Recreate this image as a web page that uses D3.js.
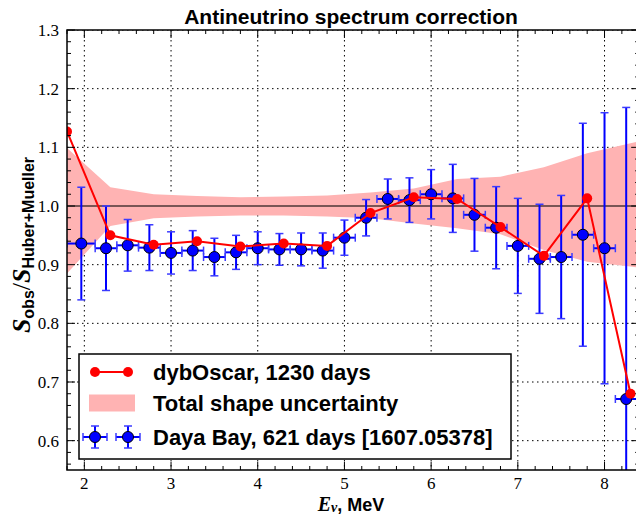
<!DOCTYPE html>
<html>
<head>
<meta charset="utf-8">
<script src="https://cdn.jsdelivr.net/npm/d3@7"></script>
<style>
  html, body { margin: 0; padding: 0; background: #fff; }
  svg { display: block; }
</style>
</head>
<body>
<svg id="chart" width="636" height="515"></svg>
<script>
// ---- data ----
// dybOscar ratio, evaluated on a 0.5 MeV grid
const oscarE = [1.8, 2.3, 2.8, 3.3, 3.8, 4.3, 4.8, 5.3, 5.8, 6.3, 6.8, 7.3, 7.8, 8.3];
const oscarRatio = [1.127, 0.950, 0.934, 0.940, 0.931, 0.936, 0.932, 0.988, 1.015, 1.012, 0.964, 0.915, 1.013, 0.680];

// total shape uncertainty band (upper / lower edge)
const bandE = [1.8, 2.3, 2.8, 3.3, 3.8, 4.3, 4.8, 5.3, 5.8, 6.3, 6.8, 7.3, 7.8, 8.3, 8.4];
const bandHigh = [1.099, 1.032, 1.020, 1.017, 1.015, 1.016, 1.018, 1.023, 1.030, 1.046, 1.050, 1.066, 1.090, 1.107, 1.110];
const bandLow = [0.885, 0.966, 0.979, 0.982, 0.984, 0.984, 0.982, 0.979, 0.970, 0.962, 0.952, 0.925, 0.905, 0.897, 0.895];

// Daya Bay, 621 days: bin edges, ratio, uncertainty
const dybLo = [1.8, 2.125, 2.375, 2.625, 2.875, 3.125, 3.375, 3.625, 3.875, 4.125, 4.375, 4.625, 4.875, 5.125, 5.375, 5.625, 5.875, 6.125, 6.375, 6.625, 6.875, 7.125, 7.375, 7.625, 7.875, 8.125];
const dybHi = [2.125, 2.375, 2.625, 2.875, 3.125, 3.375, 3.625, 3.875, 4.125, 4.375, 4.625, 4.875, 5.125, 5.375, 5.625, 5.875, 6.125, 6.375, 6.625, 6.875, 7.125, 7.375, 7.625, 7.875, 8.125, 8.375];
const dybE = [1.965, 2.25, 2.5, 2.75, 3.0, 3.25, 3.5, 3.75, 4.0, 4.25, 4.5, 4.75, 5.0, 5.25, 5.5, 5.75, 6.0, 6.25, 6.5, 6.75, 7.0, 7.25, 7.5, 7.75, 8.0, 8.25];
const dybRatio = [0.936, 0.928, 0.933, 0.929, 0.920, 0.924, 0.913, 0.921, 0.928, 0.926, 0.926, 0.924, 0.946, 0.980, 1.012, 1.010, 1.020, 1.013, 0.985, 0.963, 0.932, 0.910, 0.913, 0.951, 0.928, 0.671];
const dybErr = [0.096, 0.072, 0.044, 0.039, 0.036, 0.034, 0.032, 0.029, 0.028, 0.027, 0.028, 0.030, 0.030, 0.031, 0.034, 0.038, 0.042, 0.058, 0.062, 0.070, 0.081, 0.093, 0.105, 0.190, 0.231, 0.497];

const xMajor = [2, 3, 4, 5, 6, 7, 8];
const yMajor = [0.6, 0.7, 0.8, 0.9, 1.0, 1.1, 1.2, 1.3];
const yTickText = ["0.6", "0.7", "0.8", "0.9", "1.0", "1.1", "1.2", "1.3"];

const titleText = "Antineutrino spectrum correction";
const legendText = ["dybOscar, 1230 days", "Total shape uncertainty", "Daya Bay, 621 days [1607.05378]"];

// ---- layout ----
const pL = 67, pR = 639.2, pT = 30, pB = 470;
const svg = d3.select("#chart");
const x = d3.scaleLinear().domain([1.8, 8.4]).range([pL, pR]);
const y = d3.scaleLinear().domain([0.55, 1.3]).range([pB, pT]);

const RED = "#ff0000", BLUE = "#0000ff", PINK = "#ffb3b3", CAPBLUE = "#3b3bff";
const SANS = "'Liberation Sans', Arial, sans-serif";
const SERIF = "'Liberation Serif', 'Times New Roman', serif";

svg.append("defs").append("clipPath").attr("id", "plotclip")
  .append("rect").attr("x", pL).attr("y", pT).attr("width", pR - pL).attr("height", pB - pT);

const plot = svg.append("g").attr("clip-path", "url(#plotclip)");

// grid
plot.append("g").selectAll("line").data(xMajor).join("line")
  .attr("x1", d => x(d)).attr("x2", d => x(d)).attr("y1", pT).attr("y2", pB)
  .attr("stroke", "#000").attr("stroke-width", 1).attr("stroke-dasharray", "1.5,3.5");
plot.append("g").selectAll("line").data(yMajor).join("line")
  .attr("y1", d => y(d)).attr("y2", d => y(d)).attr("x1", pL).attr("x2", pR)
  .attr("stroke", "#000").attr("stroke-width", 1).attr("stroke-dasharray", "1.5,3.5");

// uncertainty band
const bandData = bandE.map((e, i) => ({ e, hi: bandHigh[i], lo: bandLow[i] }));
plot.append("path").datum(bandData)
  .attr("d", d3.area().x(d => x(d.e)).y0(d => y(d.lo)).y1(d => y(d.hi)))
  .attr("fill", PINK);

// reference line at unity
plot.append("line").attr("x1", pL).attr("x2", pR).attr("y1", y(1)).attr("y2", y(1))
  .attr("stroke", "#000").attr("stroke-opacity", 0.7).attr("stroke-width", 1.5);

// Daya Bay points with error bars
const dyb = dybE.map((e, i) => ({ e, lo: dybLo[i], hi: dybHi[i], v: dybRatio[i], err: dybErr[i] }));
const gd = plot.append("g");
const cap = 4;
gd.selectAll("line.h").data(dyb).join("line").attr("class", "h")
  .attr("x1", d => x(d.lo)).attr("x2", d => x(d.hi)).attr("y1", d => y(d.v)).attr("y2", d => y(d.v))
  .attr("stroke", BLUE).attr("stroke-width", 2);
gd.selectAll("line.v").data(dyb).join("line").attr("class", "v")
  .attr("x1", d => x(d.e)).attr("x2", d => x(d.e)).attr("y1", d => y(d.v - d.err)).attr("y2", d => y(d.v + d.err))
  .attr("stroke", BLUE).attr("stroke-width", 2);
const capsV = [];
dyb.forEach(d => { capsV.push({ e: d.e, v: d.v - d.err }); capsV.push({ e: d.e, v: d.v + d.err }); });
gd.selectAll("line.cv").data(capsV).join("line").attr("class", "cv")
  .attr("x1", d => x(d.e) - cap).attr("x2", d => x(d.e) + cap).attr("y1", d => y(d.v)).attr("y2", d => y(d.v))
  .attr("stroke", CAPBLUE).attr("stroke-width", 1.5);
const capsH = [];
dyb.forEach(d => { capsH.push({ e: d.lo, v: d.v }); capsH.push({ e: d.hi, v: d.v }); });
gd.selectAll("line.ch").data(capsH).join("line").attr("class", "ch")
  .attr("x1", d => x(d.e)).attr("x2", d => x(d.e)).attr("y1", d => y(d.v) - cap).attr("y2", d => y(d.v) + cap)
  .attr("stroke", CAPBLUE).attr("stroke-width", 1.5);
gd.selectAll("circle").data(dyb).join("circle")
  .attr("cx", d => x(d.e)).attr("cy", d => y(d.v)).attr("r", 5.5)
  .attr("fill", BLUE).attr("stroke", "#000").attr("stroke-width", 1);

// dybOscar curve
const osc = oscarE.map((e, i) => ({ e, v: oscarRatio[i] }));
plot.append("path").datum(osc)
  .attr("d", d3.line().x(d => x(d.e)).y(d => y(d.v)))
  .attr("fill", "none").attr("stroke", RED).attr("stroke-width", 2);
plot.append("g").selectAll("circle").data(osc).join("circle")
  .attr("cx", d => x(d.e)).attr("cy", d => y(d.v)).attr("r", 5).attr("fill", RED);

// ---- frame and ticks (inward, all four sides) ----
const axes = svg.append("g");
const xMinor = d3.range(1.8, 8.41, 0.2).map(v => +v.toFixed(2)).filter(v => !xMajor.some(m => Math.abs(m - v) < 1e-6));
const yMinor = d3.range(0.56, 1.301, 0.02).map(v => +v.toFixed(2)).filter(v => !yMajor.some(m => Math.abs(m - v) < 1e-6));

[{ vals: xMajor, len: 8 }, { vals: xMinor, len: 4 }].forEach(t => {
  axes.append("g").selectAll("line").data(t.vals).join("line")
    .attr("x1", d => x(d)).attr("x2", d => x(d)).attr("y1", pB).attr("y2", pB - t.len)
    .attr("stroke", "#000").attr("stroke-width", 1);
  axes.append("g").selectAll("line").data(t.vals).join("line")
    .attr("x1", d => x(d)).attr("x2", d => x(d)).attr("y1", pT).attr("y2", pT + t.len)
    .attr("stroke", "#000").attr("stroke-width", 1);
});
[{ vals: yMajor, len: 8 }, { vals: yMinor, len: 4 }].forEach(t => {
  axes.append("g").selectAll("line").data(t.vals).join("line")
    .attr("y1", d => y(d)).attr("y2", d => y(d)).attr("x1", pL).attr("x2", pL + t.len)
    .attr("stroke", "#000").attr("stroke-width", 1);
  axes.append("g").selectAll("line").data(t.vals).join("line")
    .attr("y1", d => y(d)).attr("y2", d => y(d)).attr("x1", pR).attr("x2", pR - t.len)
    .attr("stroke", "#000").attr("stroke-width", 1);
});
axes.append("rect").attr("x", pL).attr("y", pT).attr("width", pR - pL).attr("height", pB - pT)
  .attr("fill", "none").attr("stroke", "#000").attr("stroke-width", 1.5);

// tick labels
axes.append("g").selectAll("text").data(xMajor).join("text")
  .attr("x", d => x(d)).attr("y", pB + 19)
  .attr("text-anchor", "middle").attr("font-family", SERIF).attr("font-size", 17)
  .text(d => d);
axes.append("g").selectAll("text").data(yMajor).join("text")
  .attr("x", pL - 8).attr("y", d => y(d) + 6)
  .attr("text-anchor", "end").attr("font-family", SERIF).attr("font-size", 17)
  .text((d, i) => yTickText[i]);

// title
svg.append("text").attr("x", 351).attr("y", 24).attr("text-anchor", "middle")
  .attr("font-family", SANS).attr("font-weight", "bold").attr("font-size", 21)
  .text(titleText);

// x label: E_nu, MeV
const xl = svg.append("text").attr("x", 351).attr("y", 511).attr("text-anchor", "middle")
  .attr("font-family", SANS).attr("font-weight", "bold").attr("font-size", 18);
xl.append("tspan").attr("font-family", SERIF).attr("font-style", "italic").attr("font-size", 20).text("E");
xl.append("tspan").attr("font-family", SERIF).attr("font-style", "italic").attr("font-size", 14).attr("dy", 1).text("ν");
xl.append("tspan").attr("dy", -1).text(", MeV");

// y label: S_obs / S_Huber+Mueller
const yl = svg.append("text").attr("transform", "translate(30,245) rotate(-90)").attr("text-anchor", "middle")
  .attr("font-family", SANS).attr("font-weight", "bold").attr("font-size", 16);
yl.append("tspan").attr("font-family", SERIF).attr("font-style", "italic").attr("font-size", 26).text("S");
yl.append("tspan").attr("dy", 4).text("obs");
yl.append("tspan").attr("dy", -4).attr("font-family", SERIF).attr("font-size", 26).attr("font-weight", "normal").text("/");
yl.append("tspan").attr("font-family", SERIF).attr("font-style", "italic").attr("font-size", 26).text("S");
yl.append("tspan").attr("dy", 4).text("Huber+Mueller");

// ---- legend ----
const lg = svg.append("g");
lg.append("rect").attr("x", 79).attr("y", 354).attr("width", 432).attr("height", 105)
  .attr("fill", "#fff").attr("stroke", "#000").attr("stroke-width", 1.5);
const rowY = [372, 403, 437];
lg.append("line").attr("x1", 95).attr("x2", 128).attr("y1", rowY[0]).attr("y2", rowY[0])
  .attr("stroke", RED).attr("stroke-width", 2);
lg.selectAll("circle.r").data([95, 128]).join("circle").attr("class", "r")
  .attr("cx", d => d).attr("cy", rowY[0]).attr("r", 5).attr("fill", RED);
lg.append("rect").attr("x", 89).attr("y", rowY[1] - 8.5).attr("width", 46).attr("height", 17).attr("fill", PINK);
[95, 128].forEach(cx => {
  lg.append("line").attr("x1", cx - 12).attr("x2", cx + 12).attr("y1", rowY[2]).attr("y2", rowY[2]).attr("stroke", BLUE).attr("stroke-width", 2);
  lg.append("line").attr("x1", cx).attr("x2", cx).attr("y1", rowY[2] - 11).attr("y2", rowY[2] + 11).attr("stroke", BLUE).attr("stroke-width", 2);
  [[cx - 12, rowY[2] - cap, cx - 12, rowY[2] + cap], [cx + 12, rowY[2] - cap, cx + 12, rowY[2] + cap],
   [cx - cap, rowY[2] - 11, cx + cap, rowY[2] - 11], [cx - cap, rowY[2] + 11, cx + cap, rowY[2] + 11]].forEach(c => {
    lg.append("line").attr("x1", c[0]).attr("y1", c[1]).attr("x2", c[2]).attr("y2", c[3]).attr("stroke", CAPBLUE).attr("stroke-width", 1.5);
  });
  lg.append("circle").attr("cx", cx).attr("cy", rowY[2]).attr("r", 5.5).attr("fill", BLUE).attr("stroke", "#000").attr("stroke-width", 1);
});
lg.selectAll("text").data(legendText).join("text")
  .attr("x", 153).attr("y", (d, i) => rowY[i] + 8)
  .attr("font-family", SANS).attr("font-weight", "bold").attr("font-size", 22)
  .text(d => d);
</script>
</body>
</html>
